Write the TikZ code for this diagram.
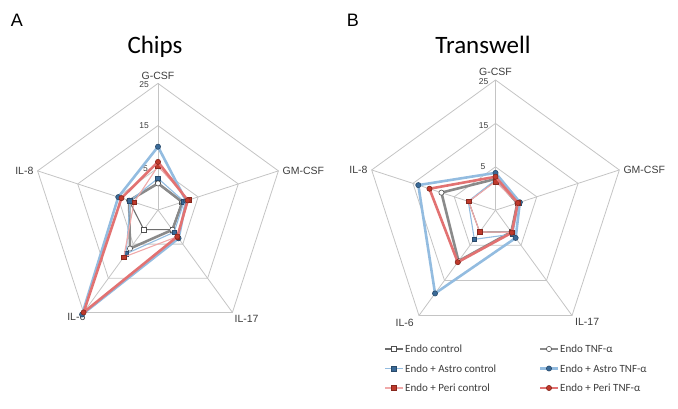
\documentclass[tikz,border=0pt]{standalone}
\usepackage{fontspec}
\setmainfont{Liberation Sans}
\newfontfamily\calibfont{Carlito}
\usetikzlibrary{positioning}
\definecolor{gridGray}{HTML}{C4C4C4}
\definecolor{textGray}{HTML}{3C3C3C}
\definecolor{lineGray}{HTML}{8A8A8A}
\definecolor{markGray}{HTML}{505050}
\definecolor{lineBlue}{HTML}{93BCE0}
\definecolor{markBlue}{HTML}{3A6A98}
\definecolor{lineRed}{HTML}{E27272}
\definecolor{lineRose}{HTML}{F0A9A9}
\definecolor{markRed}{HTML}{C0392B}
\tikzset{
  grid/.style={gridGray, line width=0.8pt},
  panel/.style={font=\fontsize{18}{20}\selectfont, inner sep=0pt},
  title/.style={font=\calibfont\fontsize{25}{28}\selectfont, inner sep=0pt},
  axis label/.style={font=\fontsize{10.5}{12}\selectfont, text=textGray, inner sep=1pt},
  tick label/.style={font=\fontsize{8.5}{10}\selectfont, text=textGray, inner sep=0pt, anchor=east},
  legend text/.style={font=\calibfont\fontsize{11}{13}\selectfont, text=textGray, inner sep=0pt, anchor=west},
  thin line/.style={line width=1.1pt, line join=round},
  thick line/.style={line width=2.6pt, line join=round},
  sq/.style={rectangle, minimum size=4.6pt, inner sep=0pt, line width=0.6pt},
  ci/.style={circle, minimum size=5.2pt, inner sep=0pt, line width=0.6pt},
  endoC-line/.style={thin line, lineGray!80!black},
  endoT-line/.style={thick line, lineGray},
  astroC-line/.style={thin line, lineBlue},
  astroT-line/.style={thick line, lineBlue},
  periC-line/.style={thin line, lineRose},
  periT-line/.style={thick line, lineRed},
  endoC-mark/.style={sq, draw=markGray, fill=white},
  endoT-mark/.style={ci, draw=markGray, fill=white},
  astroC-mark/.style={sq, draw=markBlue!70!black, fill=markBlue},
  astroT-mark/.style={ci, draw=markBlue!70!black, fill=markBlue},
  periC-mark/.style={sq, draw=markRed!70!black, fill=markRed},
  periT-mark/.style={ci, draw=markRed!70!black, fill=markRed},
}
\begin{document}
\begin{tikzpicture}[x=1pt, y=1pt]
\useasboundingbox (0,0) rectangle (678,-409);

% panel A : chips
\node[panel] (panelA) at (17,-20) {A};
\node[title] (titleA) at (155,-47) {Chips};
\begin{scope}[shift={(158,-210)}]
\def\k{4.22}
\coordinate (A-c) at (0,0);
\foreach \r in {10,20,30}
  \draw[grid] (90:{\r*\k}) -- (18:{\r*\k}) -- (-54:{\r*\k}) -- (-126:{\r*\k}) -- (162:{\r*\k}) -- cycle;
\foreach \a/\i in {90/1,18/2,-54/3,-126/4,162/5} {
  \coordinate (A-tip\i) at (\a:{30*\k});
  \draw[grid] (A-c) -- (A-tip\i);
}
\coordinate (A-t5) at (90:{10*\k});
\coordinate (A-t15) at (90:{20*\k});
\node[tick label, xshift=-9pt, yshift=-1.5pt] (A-l25) at (A-tip1) {25};
\node[tick label, xshift=-9pt, yshift=-0.5pt] (A-l15) at (A-t15) {15};
\node[tick label, xshift=-10pt, yshift=-1pt] (A-l5) at (A-t5) {5};
\node[axis label, above=3pt of A-tip1] (A-gcsf) {G-CSF};
\node[axis label, right=3pt of A-tip2] (A-gmcsf) {GM-CSF};
\node[axis label, anchor=west, xshift=1pt, yshift=-6pt] (A-il17) at (A-tip3) {IL-17};
\node[axis label, anchor=east, xshift=3pt, yshift=-4.5pt] (A-il6) at (A-tip4) {IL-6};
\node[axis label, left=3pt of A-tip5] (A-il8) {IL-8};
% series
\foreach \s/\va/\vb/\vc/\vd/\ve in {endoC/1.3/0.9/0.75/0.75/2.2, endoT/1.3/1.1/0.8/6.3/2.2,
    astroC/2.5/1.5/1.5/7.8/2.0, astroT/10/2.0/3.3/25.6/4.9,
    periC/5.4/2.6/2.8/8.8/0.95, periT/6.4/2.4/2.8/25/4.1} {
  \path (90:{(\va+5)*\k}) coordinate (A-\s-1)
        (18:{(\vb+5)*\k}) coordinate (A-\s-2)
        (-54:{(\vc+5)*\k}) coordinate (A-\s-3)
        (-126:{(\vd+5)*\k}) coordinate (A-\s-4)
        (162:{(\ve+5)*\k}) coordinate (A-\s-5);
  \draw[\s-line] (A-\s-1) -- (A-\s-2) -- (A-\s-3) -- (A-\s-4) -- (A-\s-5) -- cycle;
  \foreach \i in {1,...,5}
    \node[\s-mark] (A-\s-m\i) at (A-\s-\i) {};
}
\end{scope}

% panel B : transwell
\node[panel] (panelB) at (353,-20) {B};
\node[title] (titleB) at (483,-45) {Transwell};
\begin{scope}[shift={(495.5,-210.2)}]
\def\k{4.34}
\coordinate (B-c) at (0,0);
\foreach \r in {10,20,30}
  \draw[grid] (90:{\r*\k}) -- (18:{\r*\k}) -- (-54:{\r*\k}) -- (-126:{\r*\k}) -- (162:{\r*\k}) -- cycle;
\foreach \a/\i in {90/1,18/2,-54/3,-126/4,162/5} {
  \coordinate (B-tip\i) at (\a:{30*\k});
  \draw[grid] (B-c) -- (B-tip\i);
}
\coordinate (B-t5) at (90:{10*\k});
\coordinate (B-t15) at (90:{20*\k});
\node[tick label, xshift=-7pt, yshift=-2pt] (B-l25) at (B-tip1) {25};
\node[tick label, xshift=-7pt, yshift=-2.5pt] (B-l15) at (B-t15) {15};
\node[tick label, xshift=-10pt, yshift=0pt] (B-l5) at (B-t5) {5};
\node[axis label, above=3pt of B-tip1] (B-gcsf) {G-CSF};
\node[axis label, right=3pt of B-tip2] (B-gmcsf) {GM-CSF};
\node[axis label, anchor=north west, xshift=2pt, yshift=-2pt] (B-il17) at (B-tip3) {IL-17};
\node[axis label, anchor=north east, xshift=-4pt, yshift=-2pt] (B-il6) at (B-tip4) {IL-6};
\node[axis label, left=3pt of B-tip5] (B-il8) {IL-8};
% series
\foreach \s/\va/\vb/\vc/\vd/\ve in {endoC/1.8/0.3/1.2/1.2/1.5, endoT/2.2/0.3/1.2/9.5/8.1,
    astroC/2.0/0.6/1.8/3.3/1.6, astroT/3.6/0.9/2.9/18.7/13.7,
    periC/1.6/0.4/1.3/1.2/1.5, periT/2.7/0.4/1.4/9.8/11} {
  \path (90:{(\va+5)*\k}) coordinate (B-\s-1)
        (18:{(\vb+5)*\k}) coordinate (B-\s-2)
        (-54:{(\vc+5)*\k}) coordinate (B-\s-3)
        (-126:{(\vd+5)*\k}) coordinate (B-\s-4)
        (162:{(\ve+5)*\k}) coordinate (B-\s-5);
  \draw[\s-line] (B-\s-1) -- (B-\s-2) -- (B-\s-3) -- (B-\s-4) -- (B-\s-5) -- cycle;
  \foreach \i in {1,...,5}
    \node[\s-mark] (B-\s-m\i) at (B-\s-\i) {};
}
\end{scope}

% legend
\foreach \s/\txt/\x/\y in {endoC/Endo control/385/349, astroC/Endo + Astro control/385/368.5,
    periC/Endo + Peri control/385/388, endoT/Endo TNF-α/540/349,
    astroT/Endo + Astro TNF-α/540/368.5, periT/Endo + Peri TNF-α/540/388} {
  \coordinate (lg-\s-a) at (\x,-\y);
  \coordinate (lg-\s-b) at (\x+18,-\y);
  \draw[\s-line] (lg-\s-a) -- (lg-\s-b);
  \node[\s-mark] (lg-\s-m) at (\x+9,-\y) {};
  \node[legend text, right=2pt of lg-\s-b] (lg-\s-t) {\txt};
}
\end{tikzpicture}
\end{document}
